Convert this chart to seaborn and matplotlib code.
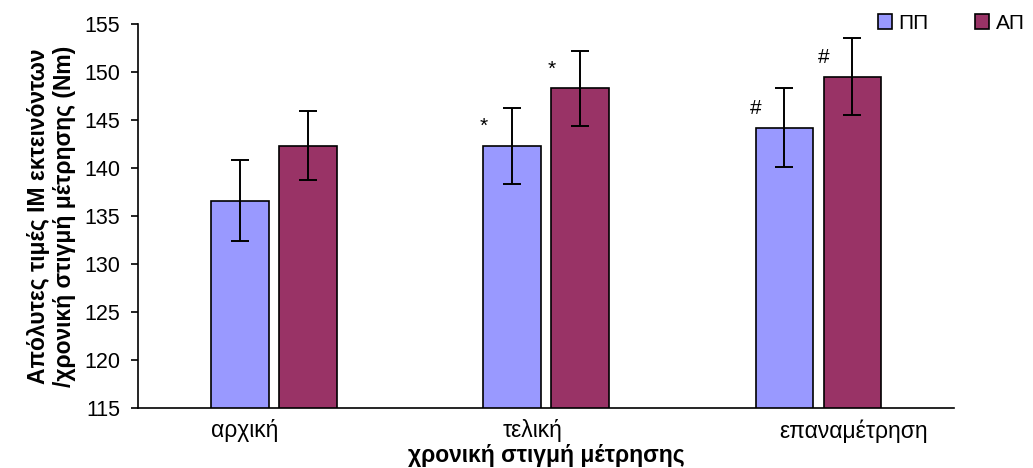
import seaborn as sns
import matplotlib.pyplot as plt
import pandas as pd

sns.set_theme(style="white")
plt.rcParams['font.family'] = ['Liberation Sans', 'DejaVu Sans']
plt.rcParams['text.color'] = 'black'
plt.rcParams['axes.labelcolor'] = 'black'
plt.rcParams['xtick.color'] = 'black'
plt.rcParams['ytick.color'] = 'black'

# data
timepoints = ['αρχική', 'τελική', 'επαναμέτρηση']
groups = ['ΠΠ', 'ΑΠ']
pp_mean = [136.6, 142.3, 144.2]
ap_mean = [142.3, 148.3, 149.5]
pp_err = [4.2, 4.0, 4.1]
ap_err = [3.6, 3.9, 4.0]
pp_marks = ['', '*', '#']
ap_marks = ['', '*', '#']
colors = ['#9999FF', '#993366']

df = pd.DataFrame({
    'time': timepoints * 2,
    'group': [groups[0]] * 3 + [groups[1]] * 3,
    'value': pp_mean + ap_mean,
})

fig = plt.figure(figsize=(10.33, 4.68), dpi=100)
ax = fig.add_axes([0.1336, 0.1282, 0.79, 0.8205])

sns.barplot(data=df, x='time', y='value', hue='group', palette=colors,
            saturation=1, width=0.5, gap=0.16, edgecolor='black', linewidth=1.2,
            errorbar=None, ax=ax, legend=False)

errs = [pp_err, ap_err]
means = [pp_mean, ap_mean]
marks = [pp_marks, ap_marks]
bar_containers = list(ax.containers)
for g, cont in enumerate(bar_containers):
    for i, bar in enumerate(cont):
        cx = bar.get_x() + bar.get_width() / 2
        ax.errorbar(cx, means[g][i], yerr=errs[g][i], color='black',
                    elinewidth=1.4, capsize=6.5, capthick=1.4)
        if marks[g][i]:
            ax.text(bar.get_x(), means[g][i] + errs[g][i] * 0.5, marks[g][i],
                    ha='center', va='center', fontsize=15)

ax.set_ylim(115, 155)
ax.set_xlim(-0.5, 2.5)
ax.set_yticks(range(115, 156, 5))
ax.set_xticks([-0.107, 0.952, 2.13], timepoints)
ax.tick_params(axis='y', left=True, length=5, width=1.2, labelsize=15.5, pad=8)
ax.tick_params(axis='x', bottom=False, labelsize=16.5, pad=2)
for s in ['top', 'right']:
    ax.spines[s].set_visible(False)
for s in ['left', 'bottom']:
    ax.spines[s].set_color('black')
    ax.spines[s].set_linewidth(1.2)

ax.set_xlabel('χρονική στιγμή μέτρησης', fontsize=16.5, fontweight='bold', labelpad=1)
ax.set_ylabel('Απόλυτες τιμές ΙΜ εκτεινόντων\n/χρονική στιγμή μέτρησης (Nm)',
              fontsize=16.5, fontweight='bold', labelpad=6, linespacing=1.15)

handles = [plt.Rectangle((0, 0), 1, 1, facecolor=c, edgecolor='black', linewidth=1.2)
           for c in colors]
fig.legend(handles, groups, loc='upper right', bbox_to_anchor=(1.01, 1.01), ncol=2,
           frameon=False, fontsize=15, handlelength=0.7, handleheight=0.7,
           handletextpad=0.3, columnspacing=2.2)

fig.savefig('out.png', dpi=100)
